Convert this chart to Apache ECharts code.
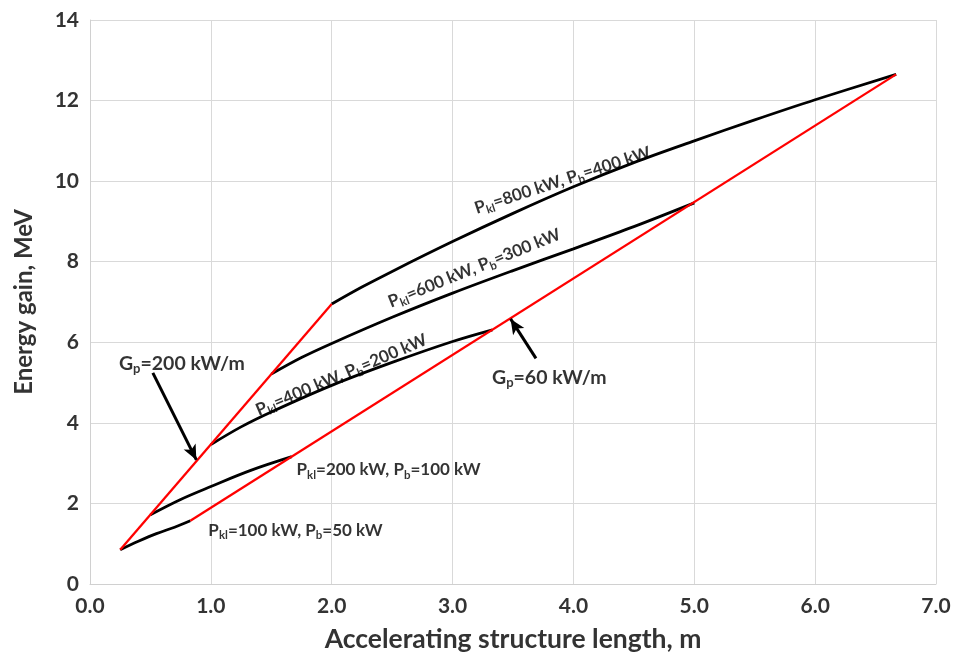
<!DOCTYPE html>
<html>
<head>
<meta charset="utf-8">
<script src="https://cdn.jsdelivr.net/npm/echarts@6/dist/echarts.min.js"></script>
<style>
html,body{margin:0;padding:0;background:#fff;}
#chart{width:959px;height:658px;}
</style>
</head>
<body>
<div id="chart"></div>
<script>
// ---- data (x: accelerating structure length, m; y: energy gain, MeV) ----
const xTicks = [0, 1, 2, 3, 4, 5, 6, 7];
const yTicks = [0, 2, 4, 6, 8, 10, 12, 14];

const curve100 = [[0.25, 0.85], [0.4, 1.06], [0.55, 1.25], [0.7, 1.41], [0.83, 1.57]];
const curve200 = [[0.5, 1.72], [0.75, 2.1], [1.0, 2.42], [1.33, 2.82], [1.67, 3.16]];
const curve400 = [[1.0, 3.46], [1.25, 3.9], [1.5, 4.27], [2.0, 4.93], [2.5, 5.5], [3.0, 6.02], [3.33, 6.31]];
const curve600 = [[1.5, 5.21], [1.75, 5.62], [2.0, 5.97], [2.5, 6.62], [3.0, 7.22], [3.5, 7.78], [4.0, 8.32], [4.5, 8.87], [5.0, 9.46]];
const curve800 = [[2.0, 6.95], [2.25, 7.37], [2.5, 7.76], [3.0, 8.5], [3.5, 9.2], [4.0, 9.86], [4.5, 10.46], [5.0, 11.0], [5.5, 11.52], [6.0, 12.02], [6.67, 12.65]];

const limit200 = [[0.25, 0.85], [2.0, 6.95]];   // G_p = 200 kW/m
const limit60  = [[0.83, 1.57], [6.67, 12.65]]; // G_p = 60 kW/m

const arrow200 = [[0.52, 5.24], [0.88, 3.08]];
const arrow60  = [[3.69, 5.6], [3.48, 6.58]];

// annotation: [x, y, rotate, rich text]
const notes = [
  [0.76, 5.48, 0, '{g|G}{gs|p}{g|=200 kW/m}'],
  [3.80, 5.13, 0, '{g|G}{gs|p}{g|=60 kW/m}'],
  [1.70, 1.34, 0, '{m|P}{s|kl}{m|=100 kW, P}{s|b}{m|=50 kW}'],
  [2.47, 2.83, 0, '{m|P}{s|kl}{m|=200 kW, P}{s|b}{m|=100 kW}'],
  [2.08, 5.19, 23, '{m|P}{s|kl}{m|=400 kW, P}{s|b}{m|=200 kW}'],
  [3.18, 7.84, 22, '{m|P}{s|kl}{m|=600 kW, P}{s|b}{m|=300 kW}'],
  [3.91, 10.02, 18, '{m|P}{s|kl}{m|=800 kW, P}{s|b}{m|=400 kW}']
];

const FONT = 'Lato, "Open Sans", sans-serif';
const chart = echarts.init(document.getElementById('chart'));

function blackCurve(d) {
  return {type: 'line', data: d, smooth: 0.35, showSymbol: false, symbol: 'none',
          lineStyle: {color: '#000', width: 2.8}, z: 3, silent: true};
}
function redLine(d) {
  return {type: 'line', data: d, showSymbol: false, symbol: 'none',
          lineStyle: {color: '#ff0000', width: 2.3}, z: 4, silent: true};
}
function arrow(d) {
  return {type: 'line', data: [], silent: true,
    markLine: {silent: true, symbol: ['none', 'arrow'], symbolSize: [10, 15], animation: false,
      lineStyle: {color: '#000', width: 3, type: 'solid'}, label: {show: false},
      data: [[{coord: d[0]}, {coord: d[1]}]]}};
}

const rich = {
  m: {fontFamily: FONT, fontWeight: 'bold', fontSize: 17, color: '#000', lineHeight: 22},
  s: {fontFamily: FONT, fontWeight: 'bold', fontSize: 11.5, color: '#000', lineHeight: 10, verticalAlign: 'bottom'},
  g: {fontFamily: FONT, fontWeight: 'bold', fontSize: 19.5, color: '#000', lineHeight: 24},
  gs: {fontFamily: FONT, fontWeight: 'bold', fontSize: 13, color: '#000', lineHeight: 11, verticalAlign: 'bottom'}
};

chart.setOption({
  animation: false,
  backgroundColor: '#fff',
  grid: {left: 90, top: 20, width: 846, height: 564, containLabel: false},
  xAxis: {
    type: 'value', min: 0, max: 7, interval: 1,
    name: 'Accelerating structure length, m', nameLocation: 'middle', nameGap: 42,
    nameTextStyle: {fontFamily: FONT, fontWeight: 'bold', fontSize: 26.5, color: '#333'},
    axisLine: {show: true, lineStyle: {color: '#d0d0d0', width: 1}},
    axisTick: {show: false},
    splitLine: {show: true, lineStyle: {color: '#d9d9d9', width: 1}},
    axisLabel: {fontFamily: FONT, fontWeight: 'bold', fontSize: 21, color: '#333', margin: 12,
      formatter: v => xTicks.includes(v) ? v.toFixed(1) : ''}
  },
  yAxis: {
    type: 'value', min: 0, max: 14, interval: 2,
    name: 'Energy gain, MeV', nameLocation: 'middle', nameGap: 54,
    nameTextStyle: {fontFamily: FONT, fontWeight: 'bold', fontSize: 24, color: '#333'},
    axisLine: {show: true, lineStyle: {color: '#d0d0d0', width: 1}},
    axisTick: {show: false},
    splitLine: {show: true, lineStyle: {color: '#d9d9d9', width: 1}},
    axisLabel: {fontFamily: FONT, fontWeight: 'bold', fontSize: 21, color: '#333', margin: 11,
      formatter: v => yTicks.includes(v) ? String(v) : ''}
  },
  series: [
    blackCurve(curve100), blackCurve(curve200), blackCurve(curve400),
    blackCurve(curve600), blackCurve(curve800),
    redLine(limit200), redLine(limit60),
    arrow(arrow200), arrow(arrow60),
    {
      type: 'scatter', symbolSize: 0, silent: true, z: 6,
      data: notes.map(n => ({
        value: [n[0], n[1]],
        label: {show: true, position: 'inside', rotate: n[2], align: 'center', verticalAlign: 'middle',
                formatter: n[3], rich: rich}
      }))
    }
  ]
});
</script>
</body>
</html>
